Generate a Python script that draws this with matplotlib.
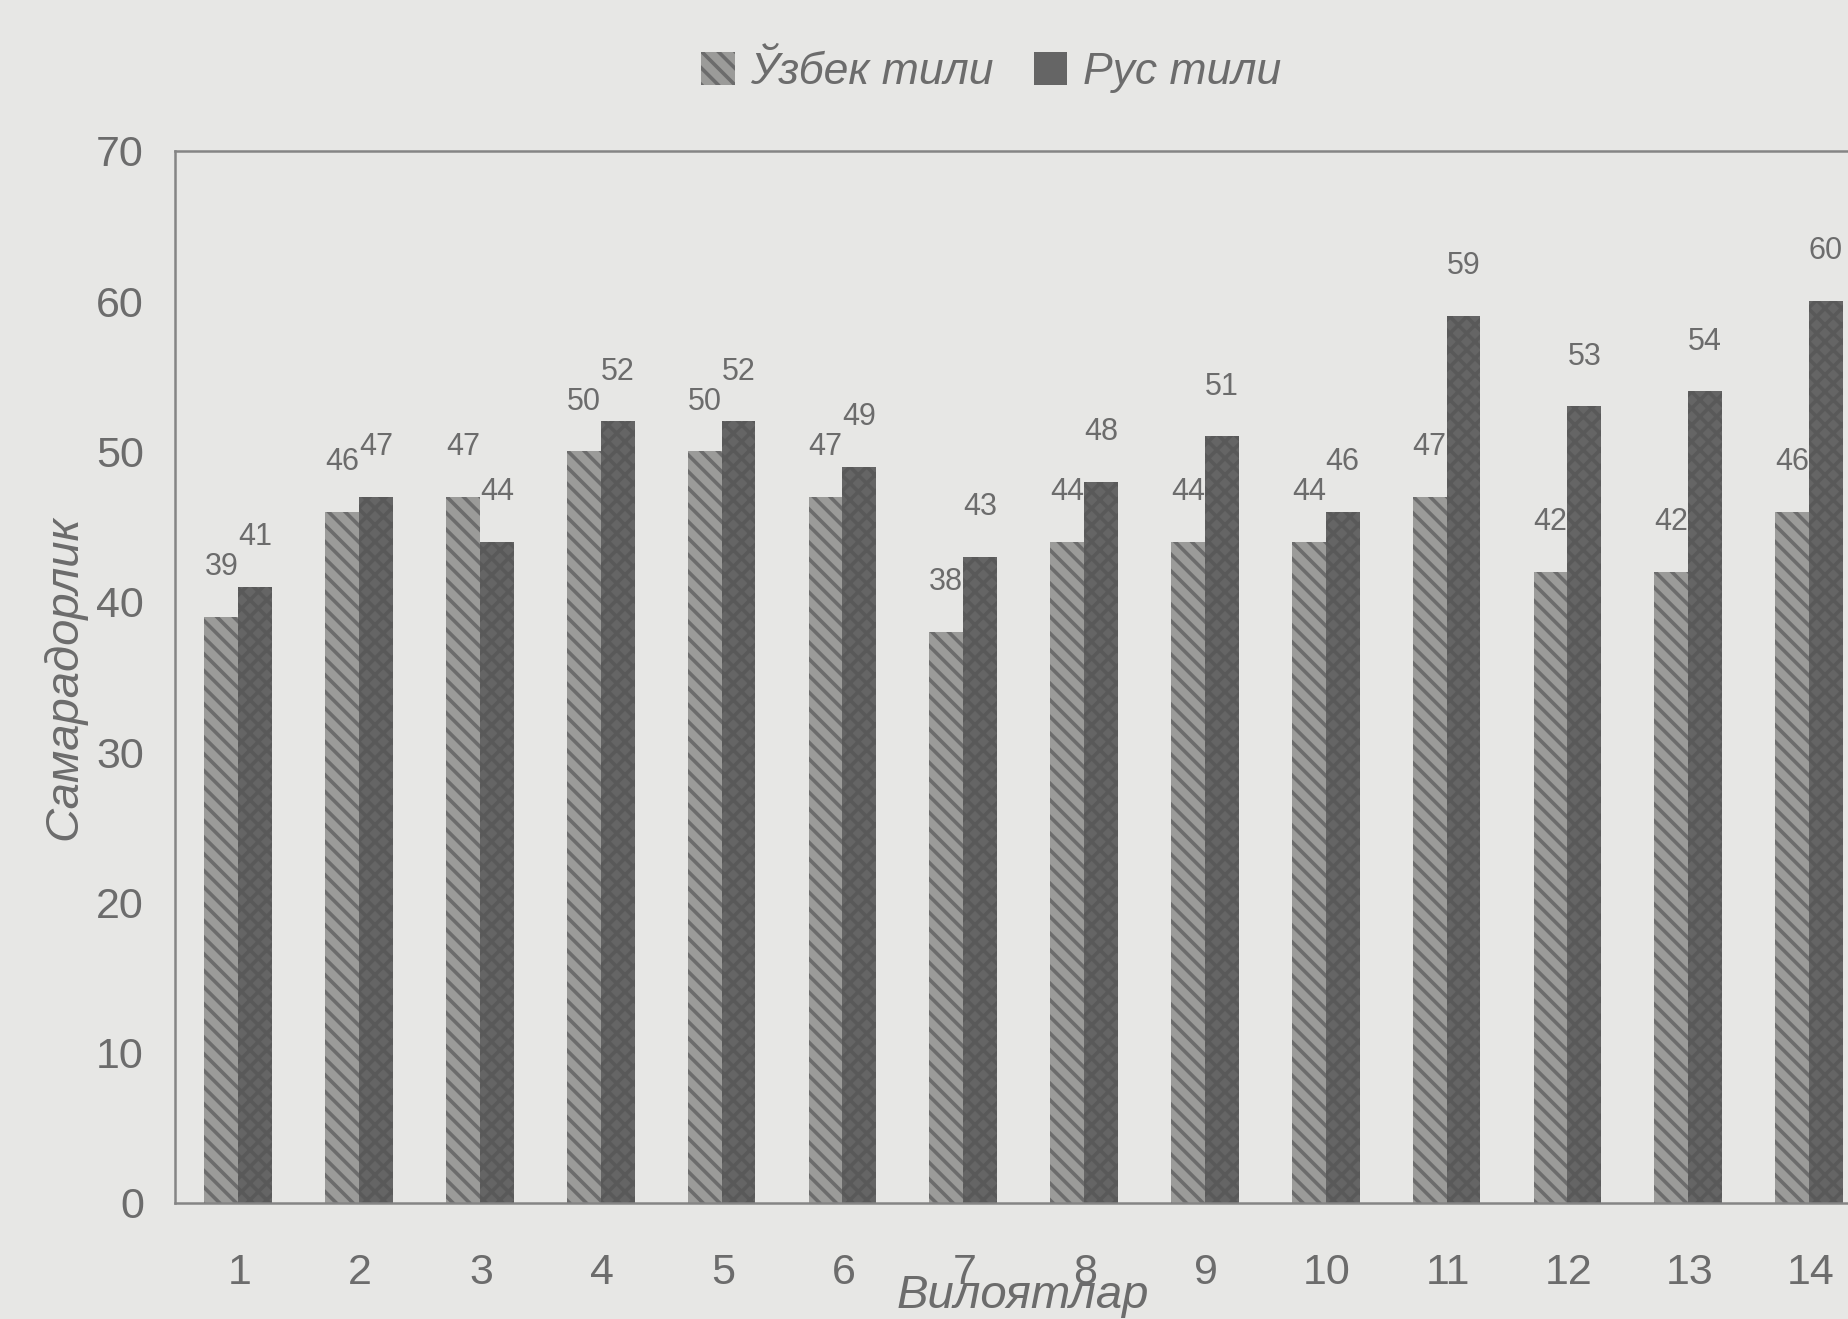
import numpy as np
import matplotlib
matplotlib.use('Agg')
import matplotlib.pyplot as plt
from matplotlib.patches import Patch

# data
regions = list(range(1, 15))
uzbek = [39, 46, 47, 50, 50, 47, 38, 44, 44, 44, 47, 42, 42, 46]
russian = [41, 47, 44, 52, 52, 49, 43, 48, 51, 46, 59, 53, 54, 60]
yticks = [0, 10, 20, 30, 40, 50, 60, 70]

BG = '#e7e7e5'
TXT = '#6c6c6c'
UZ_FACE = '#9b9b99'
UZ_HATCH = '#6c6c6c'
RU_FACE = '#656565'
RU_HATCH = '#595959'

plt.rcParams['font.family'] = ['Liberation Sans', 'DejaVu Sans']
plt.rcParams['hatch.linewidth'] = 2.6

fig = plt.figure(figsize=(18.49, 13.19), dpi=100, facecolor=BG)
ax = fig.add_axes([0.0944, 0.088, 0.9056, 0.7976], facecolor=BG)

x = np.array(regions, dtype=float)
w = 0.28
b1 = ax.bar(x - 0.15, uzbek, w, facecolor=UZ_FACE, edgecolor=UZ_HATCH,
            linewidth=0, hatch='\\\\')
b2 = ax.bar(x + 0.13, russian, w, facecolor=RU_FACE, edgecolor=RU_HATCH,
            linewidth=0, hatch='xx')

for bars, vals in ((b1, uzbek), (b2, russian)):
    for r, v in zip(bars, vals):
        ax.annotate(str(v), (r.get_x() + r.get_width() / 2, v),
                    xytext=(0, 25), textcoords='offset points',
                    ha='center', va='bottom', fontsize=22, color=TXT)

ax.set_xlim(0.463, 14.32)
ax.set_ylim(0, 70)
ax.set_yticks(yticks)
ax.set_xticks(regions)
ax.tick_params(axis='both', length=0, labelsize=31, labelcolor=TXT)
ax.tick_params(axis='y', pad=22)
ax.tick_params(axis='x', pad=36)

for s in ('left', 'bottom', 'top'):
    ax.spines[s].set_color('#858585')
    ax.spines[s].set_linewidth(1.8)
ax.spines['right'].set_visible(False)

fig.text(0.035, 0.486, 'Самарадорлик', rotation=90, ha='center', va='center',
         fontsize=34, style='italic', color=TXT)
fig.text(0.553, 0.0175, 'Вилоятлар', ha='center', va='center',
         fontsize=34, style='italic', color=TXT)

handles = [Patch(facecolor=UZ_FACE, edgecolor=UZ_HATCH, linewidth=0, hatch='\\\\'),
           Patch(facecolor=RU_FACE, edgecolor=RU_HATCH, linewidth=0)]
leg = fig.legend(handles, ['Ўзбек тили', 'Рус тили'], loc='center',
                 bbox_to_anchor=(0.536, 0.945), ncol=2, frameon=False,
                 prop={'size': 32, 'style': 'italic'},
                 handlelength=0.75, handleheight=0.75, handletextpad=0.35,
                 columnspacing=0.9)
for t in leg.get_texts():
    t.set_color(TXT)

fig.savefig('out.png', dpi=100, facecolor=BG)
